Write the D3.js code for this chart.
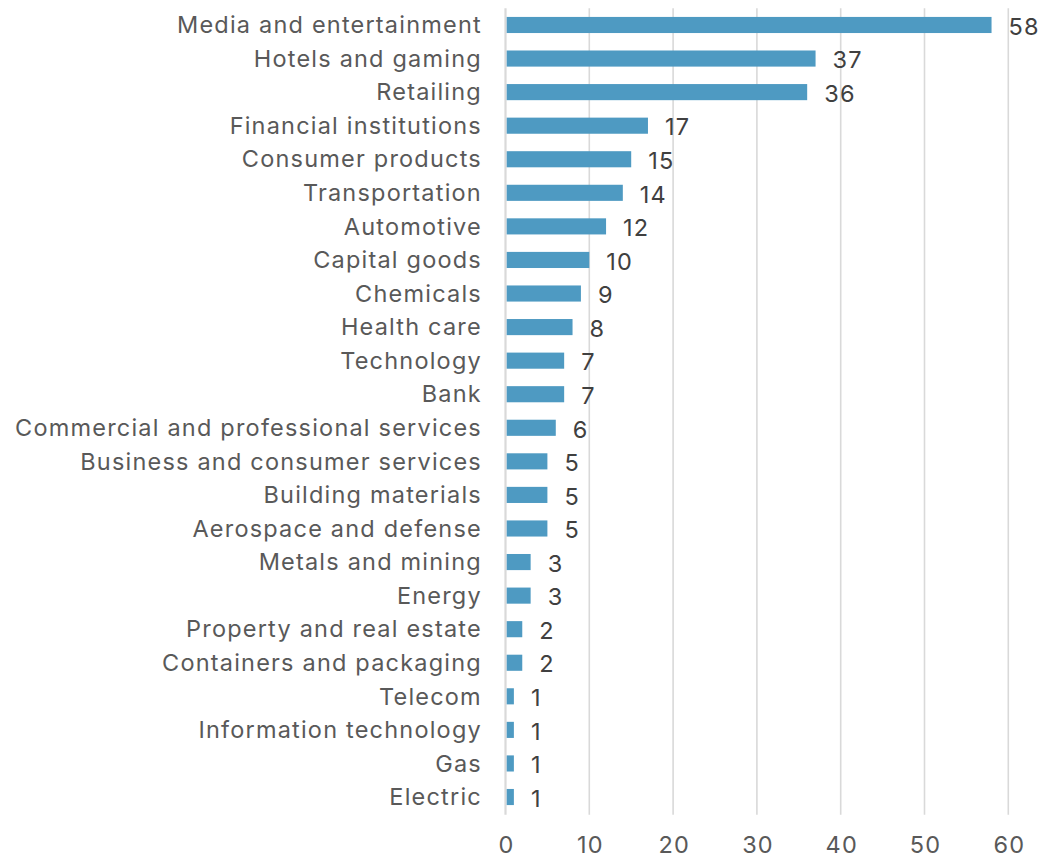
<!DOCTYPE html>
<html>
<head>
<meta charset="utf-8">
<script src="https://cdn.jsdelivr.net/npm/d3@7"></script>
<style>
  html, body { margin: 0; padding: 0; background: #ffffff; }
  svg { display: block; }
  text { font-family: Inter, Roboto, sans-serif; letter-spacing: 1.2px; }
</style>
</head>
<body>
<svg id="chart" width="1041" height="859"></svg>
<script>
// Number of rated issuers by sector
const sectors = [
  "Media and entertainment", "Hotels and gaming", "Retailing", "Financial institutions",
  "Consumer products", "Transportation", "Automotive", "Capital goods", "Chemicals",
  "Health care", "Technology", "Bank", "Commercial and professional services",
  "Business and consumer services", "Building materials", "Aerospace and defense",
  "Metals and mining", "Energy", "Property and real estate", "Containers and packaging",
  "Telecom", "Information technology", "Gas", "Electric"
];
const counts = [58, 37, 36, 17, 15, 14, 12, 10, 9, 8, 7, 7, 6, 5, 5, 5, 3, 3, 2, 2, 1, 1, 1, 1];
const xTicks = [0, 10, 20, 30, 40, 50, 60];

const svg = d3.select("#chart");
const plot = { left: 505.5, right: 1008.3, top: 8.2, bottom: 813.8 };
const fontSize = "23.5px";

const x = d3.scaleLinear().domain([0, 60]).range([plot.left, plot.right]);
const y = d3.scaleBand().domain(sectors).range([plot.top, plot.bottom])
  .paddingInner(0.52).paddingOuter(0.26);

// vertical gridlines
svg.append("g").selectAll("line").data(xTicks).join("line")
  .attr("x1", d => x(d)).attr("x2", d => x(d))
  .attr("y1", plot.top).attr("y2", plot.bottom + 1)
  .attr("stroke", "#d9d9d9")
  .attr("stroke-width", d => d === 0 ? 2.2 : 1.6);

// x axis tick labels
const xAxis = d3.axisBottom(x).tickValues(xTicks).tickSize(0).tickPadding(0);
const gx = svg.append("g").attr("transform", `translate(0,${plot.bottom})`).call(xAxis);
gx.select(".domain").remove();
gx.selectAll("text")
  .attr("y", 31).attr("dy", "0.35em")
  .attr("dx", "0.6px")
  .attr("fill", "#595959")
  .style("font-size", fontSize)
  .style("font-family", "Inter, Roboto, sans-serif");

// bars
svg.append("g").selectAll("rect").data(sectors).join("rect")
  .attr("x", x(0) + 1.2)
  .attr("y", d => y(d))
  .attr("width", (d, i) => x(counts[i]) - x(0) - 1.2)
  .attr("height", y.bandwidth())
  .attr("fill", "#4e9ac2");

// category labels (trailing letter-spacing compensated in padding)
const yAxis = d3.axisLeft(y).tickSize(0).tickPadding(23.6);
const gy = svg.append("g").attr("transform", `translate(${plot.left},0)`).call(yAxis);
gy.select(".domain").remove();
gy.selectAll("text")
  .attr("dy", "0.35em")
  .attr("fill", "#595959")
  .style("font-size", fontSize)
  .style("font-family", "Inter, Roboto, sans-serif");

// value labels
svg.append("g").selectAll("text").data(sectors).join("text")
  .attr("x", (d, i) => x(counts[i]) + 17)
  .attr("y", d => y(d) + y.bandwidth() / 2 + 1.5)
  .attr("dy", "0.35em")
  .attr("fill", "#404040")
  .style("font-size", fontSize)
  .text((d, i) => counts[i]);
</script>
</body>
</html>
